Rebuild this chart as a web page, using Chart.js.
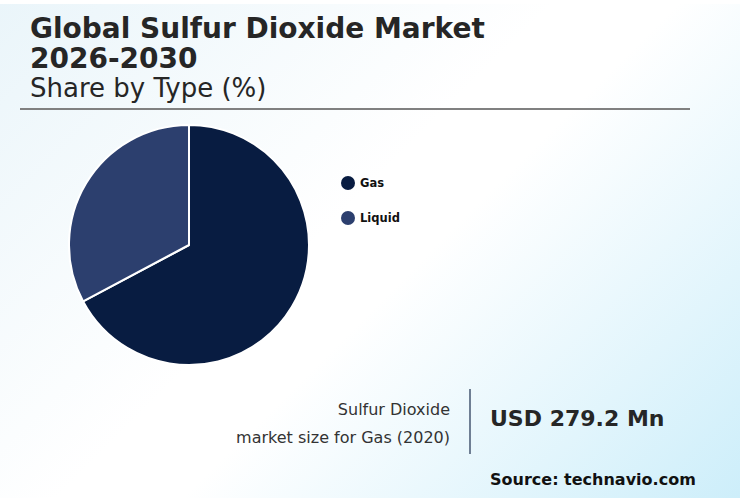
<!DOCTYPE html>
<html>
<head>
<meta charset="utf-8">
<script src="https://cdn.jsdelivr.net/npm/chart.js@4.4.1/dist/chart.umd.min.js"></script>
<style>
  html, body { margin: 0; padding: 0; }
  body {
    width: 740px; height: 498px; overflow: hidden; position: relative;
    font-family: "DejaVu Sans", sans-serif;
    background: linear-gradient(135deg, #eaf5fa 0%, #ffffff 45%, #ffffff 55%, #cdeefa 100%);
  }
  .topstrip { position: absolute; left: 0; top: 0; width: 740px; height: 4px; background: #fff; }
  .title {
    position: absolute; left: 30px; top: 14px; margin: 0;
    font-weight: bold; font-size: 28px; line-height: 30px; color: #262626;
  }
  .subtitle {
    position: absolute; left: 30px; top: 73px;
    font-size: 26px; color: #262626;
  }
  .rule { position: absolute; left: 20px; top: 108px; width: 670px; height: 2px; background: #808080; }
  #pieWrap { position: absolute; left: 68px; top: 124px; width: 242px; height: 242px; }
  .legend { position: absolute; left: 341px; top: 174px; }
  .legend div { display: flex; align-items: center; height: 18px; margin-bottom: 17px;
    font-size: 11.5px; font-weight: bold; color: #111; }
  .legend span.dot { width: 14px; height: 14px; border-radius: 50%; margin-right: 5px; display: inline-block; }
  .label { position: absolute; right: 290px; text-align: right; font-size: 16px; color: #333; }
  .vline { position: absolute; left: 469px; top: 389px; width: 2px; height: 65px; background: #6f7f94; }
  .value { position: absolute; left: 490px; top: 406px; font-size: 22px; font-weight: bold; color: #262626; }
  .source { position: absolute; left: 490px; top: 470px; font-size: 16px; font-weight: bold; color: #111; }
</style>
</head>
<body>
<div class="topstrip"></div>
<div class="title">Global Sulfur Dioxide Market<br>2026-2030</div>
<div class="subtitle">Share by Type (%)</div>
<div class="rule"></div>
<div id="pieWrap"><canvas id="pie"></canvas></div>
<div class="legend" id="legend"></div>
<div class="label" style="top:400px">Sulfur Dioxide</div>
<div class="label" style="top:428px">market size for Gas (2020)</div>
<div class="vline"></div>
<div class="value">USD 279.2 Mn</div>
<div class="source">Source: technavio.com</div>

<script>
// Share by type
const types = ['Gas', 'Liquid'];
const shares = [67.2, 32.8];
const colors = ['#081c41', '#2c3f6e'];

// Build legend from the same arrays
const legend = document.getElementById('legend');
types.forEach((t, i) => {
  const row = document.createElement('div');
  row.innerHTML = '<span class="dot" style="background:' + colors[i] + '"></span>' + t;
  legend.appendChild(row);
});

new Chart(document.getElementById('pie'), {
  type: 'pie',
  data: {
    labels: types,
    datasets: [{
      data: shares,
      backgroundColor: colors,
      borderColor: '#ffffff',
      borderWidth: 2
    }]
  },
  options: {
    responsive: true,
    maintainAspectRatio: false,
    animation: false,
    layout: { padding: 0 },
    plugins: {
      legend: { display: false },
      tooltip: { enabled: false }
    }
  }
});
</script>
</body>
</html>
